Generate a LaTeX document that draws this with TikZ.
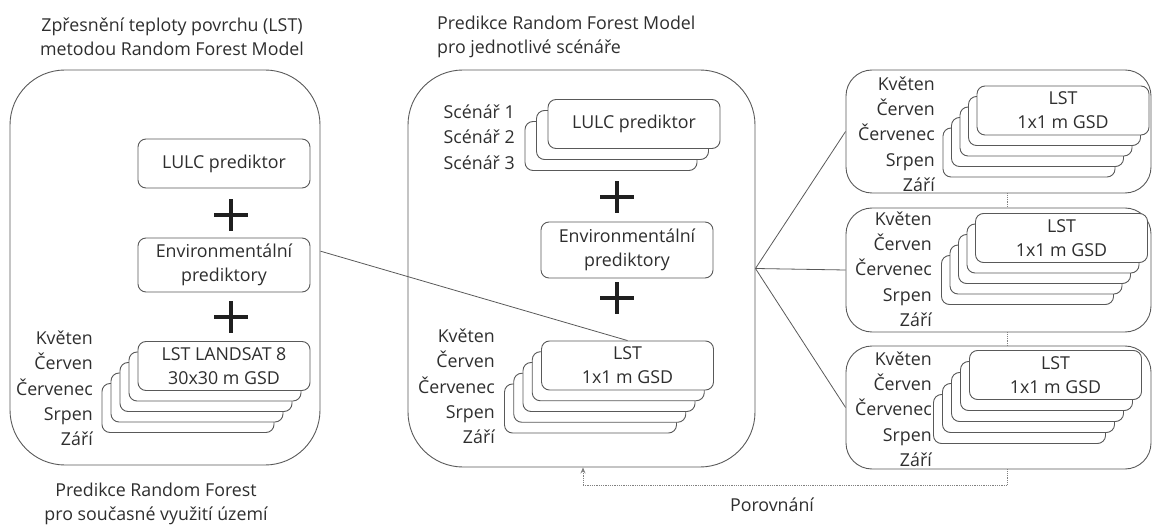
\documentclass[tikz,border=0pt]{standalone}
\usepackage{fontspec}
\setmainfont{Open Sans}
\usetikzlibrary{arrows.meta}
\definecolor{linec}{gray}{0.35}
\definecolor{textc}{gray}{0.18}
\tikzset{
  container/.style={draw=linec, line width=0.9pt, inner sep=0pt},
  layer/.style={draw=linec, fill=white, line width=0.9pt, rounded corners=8pt,
    minimum width=172pt, minimum height=49pt, inner sep=0pt, text=textc,
    align=center, font=\fontsize{17.8}{24}\selectfont},
  lbl/.style={inner sep=0pt, text=textc, font=\fontsize{17.8}{25.3}\selectfont},
  ttl/.style={inner sep=0pt, text=textc, font=\fontsize{17.8}{24}\selectfont},
  conn/.style={draw=linec, line width=0.8pt},
  dotc/.style={draw=gray, line width=0.8pt, densely dotted},
  plusline/.style={draw=black!88, line width=4.2pt},
}
\begin{document}
\begin{tikzpicture}[x=1pt,y=-1pt]
\useasboundingbox (0,0) rectangle (1153,526);

% ---------- left block ----------
\node[ttl, align=center] (lt) at (172,37) {Zpřesnění teploty povrchu (LST)\\metodou Random Forest Model};
\node[container, rounded corners=55pt, minimum width=310pt, minimum height=395pt] (leftbox) at (165,267.5) {};
\node[layer] (llulc) at (224,163.5) {LULC prediktor};
\node[layer, minimum height=54pt] (lenv) at (224,265) {Environmentální\\prediktory};
\foreach \k in {4,3,2,1} \node[layer] (ls\k) at (224-9*\k, 366+10.5*\k) {};
\node[layer] (llst) at (224,366) {LST LANDSAT 8\\30x30 m GSD};
\node[lbl, align=right, anchor=east] (lmon) at (93,388.5) {Květen\\Červen\\Červenec\\Srpen\\Září};
\coordinate (lp1) at (231,215);
\coordinate (lp2) at (231,317);
\node[ttl, align=center] (lb) at (156,503.5) {Predikce Random Forest\\pro současné využití území};

% ---------- middle block ----------
\node[ttl, align=left, anchor=west] (mt) at (437,37) {Predikce Random Forest Model\\pro jednotlivé scénáře};
\node[container, rounded corners=55pt, minimum width=347pt, minimum height=397pt] (midbox) at (581.5,268.5) {};
\foreach \k in {2,1} \node[layer] (ms\k) at (634-11.5*\k, 124+11*\k) {};
\node[layer] (mlulc) at (634,124) {LULC prediktor};
\node[lbl, align=right, anchor=east] (msc) at (515,137) {Scénář 1\\Scénář 2\\Scénář 3};
\node[layer, minimum height=56pt] (menv) at (627,250) {Environmentální\\prediktory};
\foreach \k in {4,3,2,1} \node[layer] (mls\k) at (627.5-9.25*\k, 365.5+10.75*\k) {};
\node[layer] (mlst) at (627.5,365.5) {LST\\1x1 m GSD};
\node[lbl, align=right, anchor=east] (mmon) at (495,386.5) {Květen\\Červen\\Červenec\\Srpen\\Září};
\coordinate (mp1) at (617,197);
\coordinate (mp2) at (617,298);

% ---------- right blocks ----------
\node[container, rounded corners=26pt, minimum width=305pt, minimum height=123pt] (rt1) at (998.5,131.5) {};
\foreach \k in {4,3,2,1} \node[layer] (r1s\k) at (1063-8.5*\k, 110.5+10.5*\k) {};
\node[layer] (r1lst) at (1063,110.5) {LST\\1x1 m GSD};
\node[lbl, align=right, anchor=east] (r1mon) at (935,134) {Květen\\Červen\\Červenec\\Srpen\\Září};

\node[container, rounded corners=26pt, minimum width=305pt, minimum height=124pt] (rt2) at (998.5,270) {};
\foreach \k in {4,3,2,1} \node[layer] (r2s\k) at (1061.5-8.5*\k, 238+10.5*\k) {};
\node[layer] (r2lst) at (1061.5,238) {LST\\1x1 m GSD};
\node[lbl, align=right, anchor=east] (r2mon) at (932,269) {Květen\\Červen\\Červenec\\Srpen\\Září};

\node[container, rounded corners=26pt, minimum width=305pt, minimum height=123pt] (rt3) at (998.5,407.5) {};
\foreach \k in {4,3,2,1} \node[layer] (r3s\k) at (1055.5-9*\k, 375+11*\k) {};
\node[layer] (r3lst) at (1055.5,375) {LST\\1x1 m GSD};
\node[lbl, align=right, anchor=east] (r3mon) at (932,409) {Květen\\Červen\\Červenec\\Srpen\\Září};

\node[ttl] (por) at (772,505) {Porovnání};

% ---------- plus signs ----------
\foreach \p in {lp1,lp2,mp1,mp2}
  \draw[plusline] ([xshift=-17pt]\p) -- ([xshift=17pt]\p) ([yshift=-16pt]\p) -- ([yshift=16pt]\p);

% ---------- connectors ----------
\draw[conn] (leftbox.6.4) -- (mlst.north);
\draw[conn] (midbox.east) -- (rt1.west);
\draw[conn] (midbox.east) -- (rt2.west);
\draw[conn] (midbox.east) -- (rt3.west);
\draw[dotc] ([xshift=8.5pt]rt1.south) -- ([xshift=8.5pt]rt2.north);
\draw[dotc] ([xshift=8.5pt]rt2.south) -- ([xshift=8.5pt]rt3.north);
\draw[dotc, -{Stealth[length=6pt,width=5pt]}] ([xshift=8.5pt]rt3.south) -- ++(0,16) -| ([xshift=1.5pt]midbox.south);
\end{tikzpicture}
\end{document}
